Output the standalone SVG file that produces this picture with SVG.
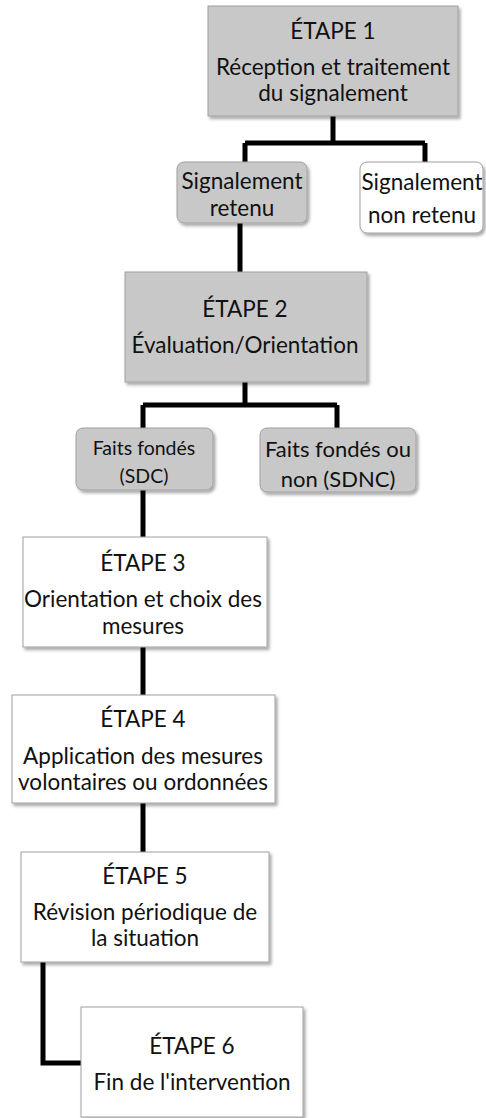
<svg xmlns="http://www.w3.org/2000/svg" width="486" height="1118" viewBox="0 0 486 1118">
<defs>
<filter id="sh" x="-10%" y="-10%" width="120%" height="130%">
<feDropShadow dx="2" dy="2.5" stdDeviation="1.5" flood-color="#000" flood-opacity="0.35"/>
</filter>
<style>
.box{stroke:#a0a0a0;stroke-width:1;filter:url(#sh)}
.g{fill:#c8c8c8}
.w{fill:#ffffff}
.t{font-family:Lato,"Liberation Sans",sans-serif;font-size:22.5px;fill:#111;text-anchor:middle;dominant-baseline:central}
.s{font-size:19.5px}
.m{font-size:22px}
.c{fill:none;stroke:#000;stroke-width:5;stroke-linejoin:miter;stroke-linecap:butt}
</style>
</defs>
<rect width="486" height="1118" fill="#fff"/>
<g id="connectors">
<path class="c" d="M333 116 V143 M245 143 H425 M245 143 V163 M425 143 V163"/>
<path class="c" d="M240 223 V272"/>
<path class="c" d="M245 382 V405 M143 405 H337 M143 405 V428 M337 405 V428"/>
<path class="c" d="M143 490 V537"/>
<path class="c" d="M143 647 V695"/>
<path class="c" d="M143 803 V852"/>
<path class="c" d="M43 962 V1063 H81"/>
</g>
<g id="etape1">
<rect class="box g" x="208" y="6" width="250" height="110"/>
<text class="t" x="333" y="30">ÉTAPE 1</text>
<text class="t" x="333" y="66">Réception et traitement</text>
<text class="t" x="333" y="92">du signalement</text>
</g>
<g id="sig-retenu">
<rect class="box g" x="177" y="162" width="130" height="61" rx="7"/>
<text class="t" x="242" y="180">Signalement</text>
<text class="t" x="242" y="207">retenu</text>
</g>
<g id="sig-non-retenu">
<rect class="box w" x="360" y="162" width="123" height="71" rx="7"/>
<text class="t" x="422" y="181">Signalement</text>
<text class="t" x="422" y="214">non retenu</text>
</g>
<g id="etape2">
<rect class="box g" x="125" y="272" width="242" height="110"/>
<text class="t" x="245" y="308">ÉTAPE 2</text>
<text class="t" x="245" y="344">Évaluation/Orientation</text>
</g>
<g id="faits-sdc">
<rect class="box g" x="76" y="428" width="137" height="62" rx="7"/>
<text class="t s" x="144" y="447">Faits fondés</text>
<text class="t s" x="144" y="475">(SDC)</text>
</g>
<g id="faits-sdnc">
<rect class="box g" x="260" y="428" width="156" height="64" rx="7"/>
<text class="t m" x="338" y="448">Faits fondés ou</text>
<text class="t m" x="338" y="478">non (SDNC)</text>
</g>
<g id="etape3">
<rect class="box w" x="23" y="537" width="244" height="110"/>
<text class="t" x="143" y="562">ÉTAPE 3</text>
<text class="t" x="143" y="598">Orientation et choix des</text>
<text class="t" x="143" y="625">mesures</text>
</g>
<g id="etape4">
<rect class="box w" x="12" y="695" width="263" height="108"/>
<text class="t" x="143" y="718">ÉTAPE 4</text>
<text class="t" x="143" y="755">Application des mesures</text>
<text class="t" x="143" y="781">volontaires ou ordonnées</text>
</g>
<g id="etape5">
<rect class="box w" x="21" y="852" width="248" height="110"/>
<text class="t" x="145" y="875">ÉTAPE 5</text>
<text class="t" x="145" y="911">Révision périodique de</text>
<text class="t" x="145" y="937">la situation</text>
</g>
<g id="etape6">
<rect class="box w" x="81" y="1007" width="222" height="110"/>
<text class="t" x="192" y="1045">ÉTAPE 6</text>
<text class="t" x="192" y="1081">Fin de l'intervention</text>
</g>
</svg>
